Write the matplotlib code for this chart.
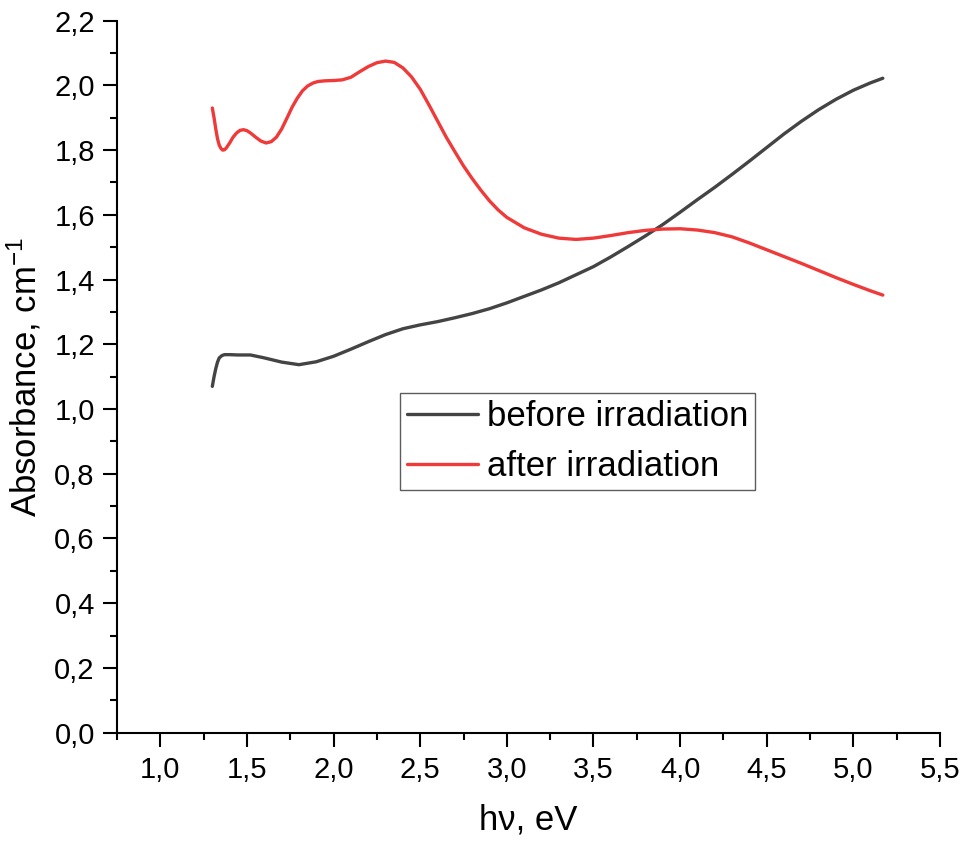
import matplotlib
matplotlib.use("Agg")
import matplotlib.pyplot as plt
from matplotlib.ticker import MultipleLocator, FuncFormatter, FixedLocator

plt.rcParams['font.family'] = ['Liberation Sans', 'DejaVu Sans']
plt.rcParams['mathtext.default'] = 'regular'

# before irradiation
x_before = [1.30, 1.31, 1.32, 1.33, 1.34, 1.355, 1.37, 1.40, 1.45, 1.52, 1.60, 1.70,
            1.80, 1.90, 2.00, 2.10, 2.20, 2.30, 2.40, 2.50, 2.60, 2.70, 2.80, 2.90,
            3.00, 3.10, 3.20, 3.30, 3.40, 3.50, 3.60, 3.70, 3.80, 3.90, 4.00, 4.10,
            4.20, 4.30, 4.40, 4.50, 4.60, 4.70, 4.80, 4.90, 5.00, 5.10, 5.17]
y_before = [1.07, 1.10, 1.125, 1.145, 1.158, 1.165, 1.168, 1.168, 1.167, 1.167, 1.158, 1.145,
            1.137, 1.146, 1.163, 1.185, 1.208, 1.230, 1.248, 1.260, 1.270, 1.282, 1.295, 1.310,
            1.328, 1.348, 1.368, 1.390, 1.415, 1.440, 1.470, 1.502, 1.535, 1.570, 1.608, 1.647,
            1.685, 1.725, 1.766, 1.808, 1.850, 1.889, 1.925, 1.957, 1.985, 2.008, 2.022]

# after irradiation
x_after = [1.30, 1.31, 1.32, 1.33, 1.34, 1.35, 1.36, 1.37, 1.38, 1.40, 1.42, 1.44,
           1.46, 1.48, 1.50, 1.52, 1.55, 1.58, 1.61, 1.64, 1.67, 1.70, 1.73, 1.76,
           1.79, 1.82, 1.85, 1.88, 1.91, 1.95, 2.00, 2.05, 2.10, 2.15, 2.20, 2.25,
           2.30, 2.35, 2.40, 2.45, 2.50, 2.55, 2.60, 2.65, 2.70, 2.75, 2.80, 2.85,
           2.90, 2.95, 3.00, 3.10, 3.20, 3.30, 3.40, 3.50, 3.60, 3.70, 3.80, 3.90,
           4.00, 4.10, 4.20, 4.30, 4.40, 4.50, 4.60, 4.70, 4.80, 4.90, 5.00, 5.10,
           5.17]
y_after = [1.93, 1.90, 1.865, 1.835, 1.815, 1.805, 1.800, 1.801, 1.806, 1.822, 1.840, 1.853,
           1.861, 1.863, 1.860, 1.853, 1.840, 1.828, 1.822, 1.826, 1.840, 1.865, 1.898, 1.932,
           1.960, 1.983, 1.998, 2.007, 2.012, 2.014, 2.015, 2.017, 2.025, 2.042, 2.058, 2.070,
           2.075, 2.071, 2.054, 2.026, 1.988, 1.940, 1.890, 1.840, 1.795, 1.751, 1.712, 1.676,
           1.643, 1.615, 1.592, 1.560, 1.540, 1.528, 1.524, 1.528, 1.536, 1.545, 1.552, 1.556,
           1.557, 1.553, 1.545, 1.532, 1.513, 1.492, 1.471, 1.450, 1.428, 1.406, 1.385, 1.365,
           1.352]

fig = plt.figure(figsize=(9.64, 8.49), dpi=100)
ax = fig.add_axes([0.1214, 0.137, 0.8537, 0.8387])

ax.plot(x_before, y_before, color='#444444', lw=2.4, label='before irradiation',
        solid_capstyle='round', solid_joinstyle='round')
ax.plot(x_after, y_after, color='#f03a3a', lw=2.4, label='after irradiation',
        solid_capstyle='round', solid_joinstyle='round')

ax.set_xlim(0.75, 5.5)
ax.set_ylim(0, 2.2)
ax.xaxis.set_major_locator(FixedLocator([1.0, 1.5, 2.0, 2.5, 3.0, 3.5, 4.0, 4.5, 5.0, 5.5]))
ax.xaxis.set_minor_locator(MultipleLocator(0.25))
ax.yaxis.set_major_locator(MultipleLocator(0.2))
ax.yaxis.set_minor_locator(MultipleLocator(0.1))
fmt = FuncFormatter(lambda v, p: f"{v:.1f}".replace('.', ','))
ax.xaxis.set_major_formatter(fmt)
ax.yaxis.set_major_formatter(fmt)

for s in ['top', 'right']:
    ax.spines[s].set_visible(False)
for s in ['left', 'bottom']:
    ax.spines[s].set_linewidth(1.5)

ax.tick_params(which='major', length=10, width=1.5, labelsize=21, direction='out')
ax.tick_params(which='minor', length=5, width=1.5, direction='out')
ax.tick_params(axis='x', which='major', pad=7)
ax.tick_params(axis='y', which='major', pad=6)

ax.set_xlabel('h\u03bd, eV', fontsize=25, labelpad=14)
ax.set_ylabel('Absorbance, cm$^{-1}$', fontsize=25, labelpad=8)

leg = ax.legend(loc='upper left', bbox_to_anchor=(0.344, 0.477), fontsize=25,
                frameon=True, fancybox=False, edgecolor='#333333',
                handlelength=2.05, handletextpad=0.25, borderpad=0.2, labelspacing=0.5,
                borderaxespad=0)
leg.get_frame().set_linewidth(1.0)

fig.savefig('out.png', dpi=100)
